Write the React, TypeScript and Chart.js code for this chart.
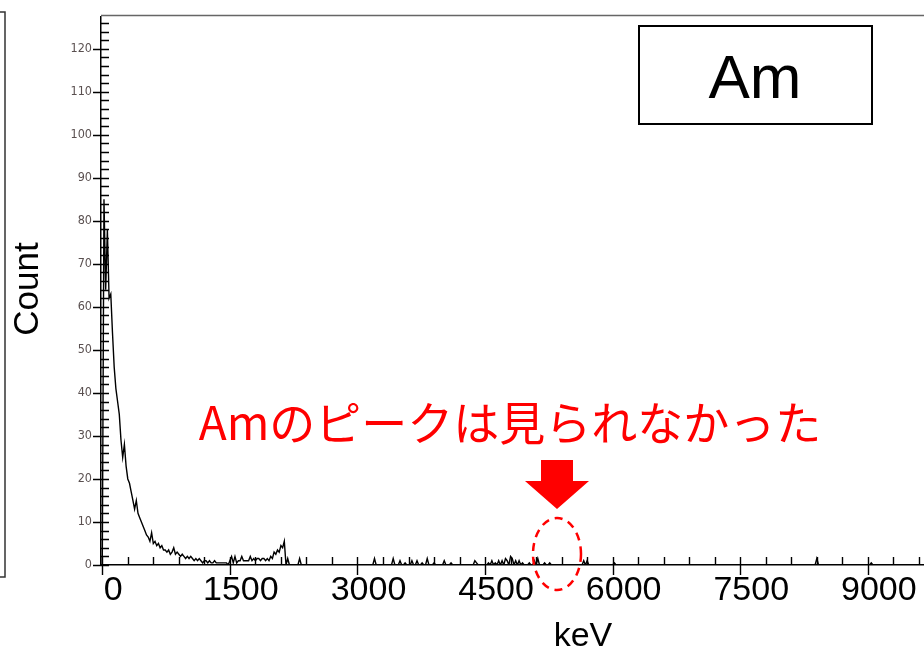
import React, { useEffect, useRef } from "react";
import { Chart, registerables } from "chart.js";

Chart.register(...registerables);

// Spectrum, 20 keV bins from 0 keV (low-energy region)
const binWidthKeV = 20;
const lowEnergyCounts = [
  0, 85, 64, 78, 62, 63, 54, 46, 41, 38,
  35, 29, 25, 28, 23, 20, 19, 17, 15, 13,
  15, 12, 11, 10, 9, 8, 7, 6.5, 5.5, 7.5,
  5, 5.5, 4.5, 5, 4, 4.5, 3.5, 3.5, 3, 3.5,
  2.5, 3, 4, 2.5, 3, 2.5, 2, 2.5, 2, 1.5,
  2, 1.5, 2, 1.5, 1, 1.5, 1, 1.5, 1, 0.5,
  1, 1, 0.5, 1, 0.5, 0.5, 1, 0.5, 0.5, 0.5,
  0.5, 0.5, 0.5, 0.5, 0, 1, 2, 0.5, 2, 0.5,
  1, 1, 2, 1, 1, 1, 1, 2, 1, 1.5,
  1, 1.5, 1.5, 1, 1.5, 1.5, 1, 1.5, 1, 2,
  1.5, 3, 2.5, 3.5, 3, 4.5, 4, 5.5, 0, 1.5,
  0,
];
// Sparse single-bin events above the low-energy region
const spikeKeV = [
  2320, 3200, 3420, 3500, 3560, 3640, 3700, 3760, 3820, 3900,
  4020, 4100, 4380, 4400, 4540, 4580, 4620, 4660, 4700, 4740,
  4760, 4800, 4820, 4860, 4900, 4940, 5020, 5080, 5120, 5200,
  5260, 5660, 5700, 6020, 8400, 9040,
];
const spikeCounts = [
  1.5, 1.5, 1.5, 1, 0.5, 1, 1, 0.5, 1.5, 0.5,
  1, 0.5, 1, 0.5, 0.5, 1, 0.5, 1, 1, 1.5,
  1, 2, 1.5, 1, 1, 0.5, 0.5, 1, 1.5, 0.5,
  0.5, 1, 1, 0.5, 1.5, 0.5,
];
const xTickValues = [0, 1500, 3000, 4500, 6000, 7500, 9000];
const yTickValues = [0, 10, 20, 30, 40, 50, 60, 70, 80, 90, 100, 110, 120];
const xMinorStep = 300;
const yMinorStep = 2;
const xMin = -15;
const xMax = 9660;
const yMax = 127.5;

const titleText = "Am";
const noteText = "Amのピークは見られなかった";
const xTitle = "keV";
const yTitle = "Count";

function buildPoints() {
  const nBins = Math.ceil(xMax / binWidthKeV) + 1;
  const counts: number[] = new Array(nBins).fill(0);
  lowEnergyCounts.forEach((c, i) => (counts[i] = c));
  spikeKeV.forEach((k, i) => {
    counts[Math.round(k / binWidthKeV)] = spikeCounts[i];
  });
  return counts.map((c, i) => ({ x: i * binWidthKeV, y: c }));
}

const decorPlugin = {
  id: "decor",
  afterDraw(chart: any) {
    const ctx = chart.ctx;
    const xs = chart.scales.x;
    const ys = chart.scales.y;
    const area = chart.chartArea;
    ctx.save();
    // left frame fragment
    ctx.strokeStyle = "#333";
    ctx.lineWidth = 1.5;
    ctx.beginPath();
    ctx.moveTo(0, 12);
    ctx.lineTo(5, 12);
    ctx.lineTo(5, 577);
    ctx.lineTo(0, 577);
    ctx.stroke();
    // top border of plot
    ctx.strokeStyle = "#666";
    ctx.beginPath();
    ctx.moveTo(area.left, area.top - 1);
    ctx.lineTo(area.right, area.top - 1);
    ctx.stroke();

    // axis ticks
    ctx.strokeStyle = "#000";
    ctx.lineWidth = 1.4;
    ctx.beginPath();
    for (let v = 0; v <= yMax; v += yMinorStep) {
      const py = Math.round(ys.getPixelForValue(v)) + 0.5;
      const major = yTickValues.includes(v);
      ctx.moveTo(major ? area.left - 8 : area.left, py);
      ctx.lineTo(area.left + 8, py);
    }
    for (let v = 0; v <= xMax; v += xMinorStep) {
      const px = Math.round(xs.getPixelForValue(v)) + 0.5;
      const major = xTickValues.includes(v);
      ctx.moveTo(px, area.bottom - 8);
      ctx.lineTo(px, major ? area.bottom + 10 : area.bottom);
    }
    ctx.stroke();

    // axis titles
    ctx.fillStyle = "#000";
    ctx.font = "34px 'Liberation Sans', Arial, sans-serif";
    ctx.textAlign = "center";
    ctx.textBaseline = "middle";
    ctx.fillText(xTitle, 583, 637);
    ctx.save();
    ctx.translate(28, 289);
    ctx.rotate(-Math.PI / 2);
    ctx.font = "35px 'Liberation Sans', Arial, sans-serif";
    ctx.fillText(yTitle, 0, 0);
    ctx.restore();

    // "Am" box
    ctx.fillStyle = "#fff";
    ctx.fillRect(639, 26, 233, 98);
    ctx.lineWidth = 2;
    ctx.strokeStyle = "#000";
    ctx.strokeRect(639, 26, 233, 98);
    ctx.fillStyle = "#000";
    ctx.font = "62px 'Liberation Sans', Arial, sans-serif";
    ctx.textBaseline = "alphabetic";
    ctx.fillText(titleText, 755, 98);

    // red note
    ctx.fillStyle = "#ff0000";
    ctx.font = "46px 'Noto Sans CJK JP', sans-serif";
    ctx.textAlign = "center";
    ctx.fillText(noteText, 510, 440);

    // arrow
    ctx.beginPath();
    ctx.moveTo(541, 460);
    ctx.lineTo(573, 460);
    ctx.lineTo(573, 481);
    ctx.lineTo(589, 481);
    ctx.lineTo(557, 509);
    ctx.lineTo(525, 481);
    ctx.lineTo(541, 481);
    ctx.closePath();
    ctx.fill();

    // dashed ellipse
    ctx.strokeStyle = "#ff0000";
    ctx.lineWidth = 2.5;
    ctx.setLineDash([8, 6]);
    ctx.beginPath();
    ctx.ellipse(557, 554, 24, 36, 0, 0, Math.PI * 2);
    ctx.stroke();
    ctx.restore();
  },
};

export default function App() {
  const ref = useRef<HTMLCanvasElement | null>(null);
  useEffect(() => {
    if (!ref.current) return;
    const chart = new Chart(ref.current, {
      type: "line",
      data: {
        datasets: [
          {
            data: buildPoints(),
            borderColor: "#000",
            borderWidth: 1.4,
            pointRadius: 0,
            tension: 0,
            fill: false,
          },
        ],
      },
      options: {
        animation: false,
        responsive: false,
        events: [],
        layout: { padding: { top: 14, right: 0, left: 0, bottom: 0 } },
        plugins: { legend: { display: false }, tooltip: { enabled: false } },
        scales: {
          x: {
            type: "linear",
            min: xMin,
            max: xMax,
            afterBuildTicks: (s: any) => {
              s.ticks = xTickValues.map((v) => ({ value: v }));
            },
            afterFit: (s: any) => {
              s.height = 91;
            },
            grid: { display: false, drawTicks: false },
            border: { display: true, color: "#000", width: 1.5 },
            ticks: {
              autoSkip: false,
              maxRotation: 0,
              padding: 5,
              labelOffset: 11,
              color: "#000",
              callback: (v: any) => String(v),
              font: { family: "'Liberation Sans', Arial, sans-serif", size: 34 },
            },
          },
          y: {
            type: "linear",
            min: 0,
            max: yMax,
            afterBuildTicks: (s: any) => {
              s.ticks = yTickValues.map((v) => ({ value: v }));
            },
            afterFit: (s: any) => {
              s.width = 101;
            },
            grid: { display: false, drawTicks: false },
            border: { display: true, color: "#000", width: 1.5 },
            ticks: {
              autoSkip: false,
              padding: 9,
              color: "#5a5050",
              callback: (v: any) => String(v),
              font: { family: "'DejaVu Sans Condensed', 'DejaVu Sans', sans-serif", size: 12.5 },
            },
          },
        },
      },
      plugins: [decorPlugin],
    });
    return () => chart.destroy();
  }, []);
  return (
    <div style={{ position: "absolute", left: 0, top: 0, width: 924, height: 656, background: "#fff" }}>
      <canvas ref={ref} width={924} height={656} />
    </div>
  );
}
